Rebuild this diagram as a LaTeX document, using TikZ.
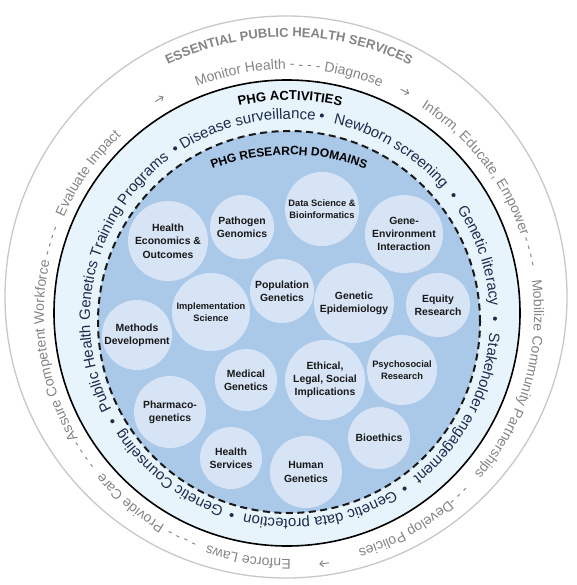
\documentclass[tikz,border=0pt]{standalone}
\usepackage{fontspec}
\setmainfont{Liberation Sans}
\usetikzlibrary{decorations.text,arrows.meta,calc}

\definecolor{ringblue}{HTML}{E8F4FC}
\definecolor{domblue}{HTML}{AAC8E8}
\definecolor{bubble}{HTML}{D7E4F5}
\definecolor{navy}{HTML}{1C2C4C}
\definecolor{svcgray}{HTML}{858585}
\definecolor{outergray}{HTML}{C8C8C8}

\newcommand\ringfont{\color{navy}\fontsize{15}{18}\selectfont}
\newcommand\svcfont{\color{svcgray}\fontsize{14}{17}\selectfont}
\newcommand\essfont{\color{svcgray}\bfseries\fontsize{13}{16}\selectfont}
\newcommand\actfont{\color{black}\bfseries\fontsize{13}{16}\selectfont}
\newcommand\domfont{\color{black}\bfseries\fontsize{12}{15}\selectfont}

% #1 cx, #2 cy, #3 radius, #4 mid angle, #5 text (clockwise, baseline on circle)
\newcommand\arctxt[5]{%
  \path[decorate,decoration={text along path,text align=center,text={#5}}]
    (#1pt,#2pt) ++(#4+70:#3pt) arc[start angle=#4+70,end angle=#4-70,radius=#3pt];}

\tikzset{
  bub/.style={circle, fill=bubble, inner sep=0pt, align=center,
    text=black!90, font=\bfseries\fontsize{10.4}{13.3}\selectfont},
  bubs/.style={bub, font=\bfseries\fontsize{9.3}{11.7}\selectfont},
  svcarrow/.style={svcgray, line width=0.9pt, -{Straight Barb[length=3.2pt,width=6pt]}},
}

\begin{document}
\begin{tikzpicture}[x=1pt,y=1pt]
\useasboundingbox (0,0) rectangle (576,-585);
\fill[white] (0,0) rectangle (576,-585);

% rings
\coordinate (co) at (286,-297);
\coordinate (cb) at (287,-313);
\coordinate (cd) at (289,-322);
\coordinate (cs) at (289,-314);
\draw[outergray, line width=1.3pt] (co) circle[radius=281pt];
\draw[fill=ringblue, draw=black, line width=1.6pt] (cb) circle[radius=233pt];
\draw[fill=domblue, draw=black!90, line width=2pt, dash pattern=on 7pt off 4.5pt] (cd) circle[radius=191pt];

% research domain bubbles
\node[bub, minimum size=80pt] (heo) at (168,-241) {Health\\Economics \&\\Outcomes};
\node[bub, minimum size=64pt] (pg) at (242,-227) {Pathogen\\Genomics};
\node[bubs, minimum size=74pt] (dsb) at (322,-209) {Data Science \&\\Bioinformatics};
\node[bub, minimum size=78pt] (gei) at (404,-234) {Gene-\\Environment\\Interaction};
\node[bub, minimum size=64pt] (popg) at (282,-291) {Population\\Genetics};
\node[bub, minimum size=80pt] (gepi) at (354,-303) {Genetic\\Epidemiology};
\node[bub, minimum size=64pt] (eqr) at (438,-305) {Equity\\Research};
\node[bubs, minimum size=78pt] (imps) at (211,-312) {Implementation\\Science};
\node[bub, minimum size=70pt] (md) at (137,-335) {Methods\\Development};
\node[bub, minimum size=62pt] (medg) at (246,-380) {Medical\\Genetics};
\node[bub, minimum size=80pt] (elsi) at (325,-380) {Ethical,\\Legal, Social\\Implications};
\node[bubs, minimum size=70pt] (psr) at (402,-370) {Psychosocial\\Research};
\node[bub, minimum size=72pt] (phg) at (170,-412) {Pharmaco-\\genetics};
\node[bub, minimum size=62pt] (bio) at (379,-438) {Bioethics};
\node[bub, minimum size=62pt] (hs) at (231,-458) {Health\\Services};
\node[bub, minimum size=72pt] (hug) at (306,-472) {Human\\Genetics};

% ring titles
\arctxt{289}{-314}{277}{90}{|\essfont|ESSENTIAL PUBLIC HEALTH SERVICES}
\arctxt{290}{-319}{219}{90}{|\actfont|PHG ACTIVITIES}
\arctxt{289}{-375}{220}{90}{|\domfont|PHG RESEARCH DOMAINS}

% PHG activities ring
\arctxt{290}{-319}{200}{167}{|\ringfont|Public Health Genetics Training Programs}
\arctxt{290}{-319}{200}{102.5}{|\ringfont|Disease surveillance}
\arctxt{290}{-319}{200}{59}{|\ringfont|Newborn screening}
\arctxt{290}{-319}{200}{18.5}{|\ringfont|Genetic literacy}
\arctxt{290}{-319}{200}{-28}{|\ringfont|Stakeholder engagement}
\arctxt{290}{-319}{200}{-81}{|\ringfont|Genetic data protection}
\arctxt{290}{-319}{200}{-128}{|\ringfont|Genetic Counseling}
\arctxt{290}{-319}{200}{210}{|\ringfont|•}
\arctxt{290}{-319}{200}{124}{|\ringfont|•}
\arctxt{290}{-319}{200}{81}{|\ringfont|•}
\arctxt{290}{-319}{200}{37}{|\ringfont|•}
\arctxt{290}{-319}{200}{0}{|\ringfont|•}
\arctxt{290}{-319}{200}{-56}{|\ringfont|•}
\arctxt{290}{-319}{200}{-106.5}{|\ringfont|•}

% essential services ring
\arctxt{289}{-314}{245}{90}{|\svcfont|Monitor Health - - - - Diagnose}
\arctxt{289}{-314}{245}{38}{|\svcfont|Inform, Educate, Empower}
\arctxt{289}{-314}{245}{14.5}{|\svcfont|- - - -}
\arctxt{289}{-314}{245}{-16.5}{|\svcfont|Mobilize Community Partnerships}
\arctxt{289}{-314}{245}{-47}{|\svcfont|- - -}
\arctxt{289}{-314}{245}{-61.5}{|\svcfont|Develop Policies}
\arctxt{289}{-314}{245}{-99.5}{|\svcfont|Enforce Laws}
\arctxt{289}{-314}{245}{-115.5}{|\svcfont|- - - -}
\arctxt{289}{-314}{245}{-130}{|\svcfont|Provide Care}
\arctxt{289}{-314}{245}{-145.5}{|\svcfont|- - - -}
\arctxt{289}{-314}{245}{-171}{|\svcfont|Assure Competent Workforce}
\arctxt{289}{-314}{245}{163}{|\svcfont|- - - -}
\arctxt{289}{-314}{245}{145}{|\svcfont|Evaluate Impact}

% clockwise arrows between service groups
\coordinate (a1s) at ($(cs)+(122.2:251pt)$);
\coordinate (a1e) at ($(cs)+(120.0:251pt)$);
\coordinate (a2s) at ($(cs)+(63.6:251pt)$);
\coordinate (a2e) at ($(cs)+(61.4:251pt)$);
\coordinate (a3s) at ($(cs)+(-80.9:252pt)$);
\coordinate (a3e) at ($(cs)+(-83.1:252pt)$);
\draw[svcarrow] (a1s) -- (a1e);
\draw[svcarrow] (a2s) -- (a2e);
\draw[svcarrow] (a3s) -- (a3e);
\end{tikzpicture}
\end{document}
